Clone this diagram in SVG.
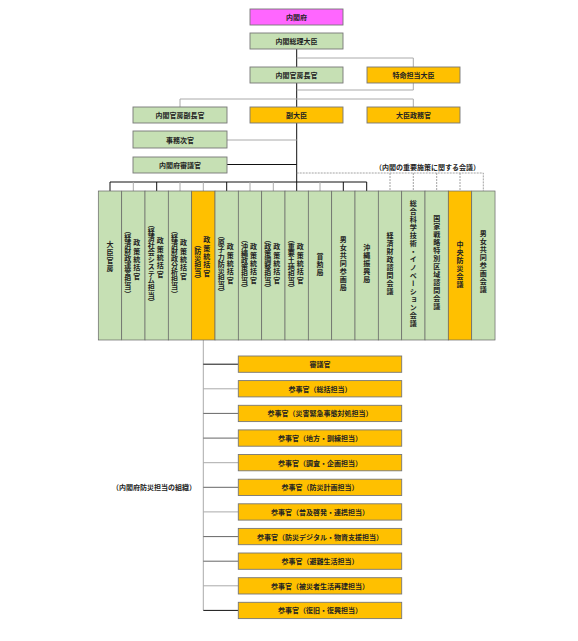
<svg xmlns="http://www.w3.org/2000/svg" width="578" height="641" viewBox="0 0 578 641">
<style>
text{font-family:"Noto Sans CJK JP","Noto Sans",sans-serif;font-size:7px;font-weight:bold;fill:#222}
.h{text-anchor:middle;dominant-baseline:central}
.v{writing-mode:vertical-rl;text-anchor:middle;letter-spacing:1px}
.p{letter-spacing:0.1px}
.s{letter-spacing:1.4px}
.g{fill:#C6E0B4}
.o{fill:#FFC000}
.m{fill:#FF66FF}
.box{stroke:#777;stroke-width:0.9}
.col{stroke:#666;stroke-width:0.7}
.k{stroke:#111;stroke-width:1;fill:none}
.l{stroke:#aaa;stroke-width:1;fill:none}
.d{stroke:#666;stroke-width:1;fill:none}
.ds{stroke:#999;stroke-width:0.9;fill:none;stroke-dasharray:2,1}
</style>
<rect width="578" height="641" fill="#fff"/>
<g id="connectors">
<line class="k" x1="296.7" y1="49" x2="296.7" y2="191"/>
<polyline class="l" points="296.7,58 413.3,58 413.3,67"/>
<polyline class="l" points="413.3,83 413.3,90 296.7,90"/>
<polyline class="l" points="180,107 180,99 413.3,99 413.3,107"/>
<line class="l" x1="227" y1="140" x2="296.7" y2="140" stroke-width="1.4"/>
<line class="k" x1="227" y1="164.5" x2="296.7" y2="164.5"/>
<line class="k" x1="110" y1="182" x2="366.7" y2="182"/>
<line class="k" x1="110" y1="182" x2="110" y2="191"/>
<line class="l" x1="133.3" y1="182" x2="133.3" y2="191"/>
<line class="k" x1="156.7" y1="182" x2="156.7" y2="191"/>
<line class="l" x1="180" y1="182" x2="180" y2="191"/>
<line class="l" x1="203.3" y1="182" x2="203.3" y2="191"/>
<line class="k" x1="226.7" y1="182" x2="226.7" y2="191"/>
<line class="l" x1="250" y1="182" x2="250" y2="191"/>
<line class="l" x1="273.3" y1="182" x2="273.3" y2="191"/>
<line class="l" x1="320" y1="182" x2="320" y2="191"/>
<line class="k" x1="343.3" y1="182" x2="343.3" y2="191"/>
<line class="k" x1="366.7" y1="182" x2="366.7" y2="191"/>
<polyline class="ds" points="296.7,173 483.3,173 483.3,191"/>
<line class="ds" x1="390" y1="173" x2="390" y2="191"/>
<line class="ds" x1="413.3" y1="173" x2="413.3" y2="191"/>
<line class="ds" x1="436.7" y1="173" x2="436.7" y2="191"/>
<line class="ds" x1="460" y1="173" x2="460" y2="191"/>
<line class="l" x1="203.3" y1="340" x2="203.3" y2="610" stroke="#999"/>
<line class="k" x1="203.3" y1="364.2" x2="238.3" y2="364.2"/>
<line class="l" x1="203.3" y1="388.8" x2="238.3" y2="388.8"/>
<line class="d" x1="203.3" y1="413.4" x2="238.3" y2="413.4"/>
<line class="d" x1="203.3" y1="438.1" x2="238.3" y2="438.1"/>
<line class="l" x1="203.3" y1="462.7" x2="238.3" y2="462.7"/>
<line class="d" x1="203.3" y1="487.3" x2="238.3" y2="487.3"/>
<line class="l" x1="203.3" y1="511.9" x2="238.3" y2="511.9"/>
<line class="d" x1="203.3" y1="536.6" x2="238.3" y2="536.6"/>
<line class="d" x1="203.3" y1="561.2" x2="238.3" y2="561.2"/>
<line class="l" x1="203.3" y1="585.8" x2="238.3" y2="585.8"/>
<line class="k" x1="203.3" y1="610.4" x2="238.3" y2="610.4"/>
</g>
<g id="n-naikakufu"><rect class="box m" x="250" y="9" width="93" height="16"/><text class="h" x="296.5" y="17">内閣府</text></g>
<g id="n-souri"><rect class="box g" x="250" y="33" width="93" height="16"/><text class="h" x="296.5" y="41">内閣総理大臣</text></g>
<g id="n-kanbou"><rect class="box g" x="250" y="67" width="93" height="16"/><text class="h" x="296.5" y="75">内閣官房長官</text></g>
<g id="n-tokumei"><rect class="box o" x="367" y="67" width="93" height="16"/><text class="h" x="413.5" y="75">特命担当大臣</text></g>
<g id="n-fukuchoukan"><rect class="box g" x="133" y="107" width="94" height="16"/><text class="h" x="180" y="115">内閣官房副長官</text></g>
<g id="n-fukudaijin"><rect class="box o" x="250" y="107" width="93" height="16"/><text class="h" x="296.5" y="115">副大臣</text></g>
<g id="n-seimukan"><rect class="box o" x="367" y="107" width="93" height="16"/><text class="h" x="413.5" y="115">大臣政務官</text></g>
<g id="n-jimujikan"><rect class="box g" x="133" y="131" width="94" height="17"/><text class="h" x="180" y="139.5">事務次官</text></g>
<g id="n-shingikan"><rect class="box g" x="133" y="157" width="94" height="16"/><text class="h" x="180" y="165">内閣府審議官</text></g>
<g id="label-kaigi"><text x="375" y="169.5">（内閣の重要施策に関する会議）</text></g>
<g id="columns">
<g id="c1"><rect class="col g" x="98.3" y="191" width="23.33" height="149"/><text class="v" x="110" y="257">大臣官房</text></g>
<g id="c2"><rect class="col g" x="121.7" y="191" width="23.33" height="149"/><text class="v s" x="136.8" y="260">政策統括官</text><text class="v p" x="127.8" y="262">（経済財政運営担当）</text></g>
<g id="c3"><rect class="col g" x="145" y="191" width="23.33" height="149"/><text class="v s" x="160.2" y="258">政策統括官</text><text class="v p" x="151.2" y="263">（経済社会システム担当）</text></g>
<g id="c4"><rect class="col g" x="168.3" y="191" width="23.33" height="149"/><text class="v s" x="183.5" y="260">政策統括官</text><text class="v p" x="174.5" y="262">（経済財政分析担当）</text></g>
<g id="c5"><rect class="col o" x="191.7" y="191" width="23.33" height="149"/><text class="v s" x="206.8" y="257">政策統括官</text><text class="v p" x="197.8" y="262">（防災担当）</text></g>
<g id="c6"><rect class="col g" x="215" y="191" width="23.33" height="149"/><text class="v s" x="230.2" y="264">政策統括官</text><text class="v p" x="221.2" y="264">（原子力防災担当）</text></g>
<g id="c7"><rect class="col g" x="238.3" y="191" width="23.33" height="149"/><text class="v s" x="253.5" y="264">政策統括官</text><text class="v p" x="244.5" y="264">（沖縄政策担当）</text></g>
<g id="c8"><rect class="col g" x="261.7" y="191" width="23.33" height="149"/><text class="v s" x="276.8" y="264">政策統括官</text><text class="v p" x="267.8" y="264">（政策調整担当）</text></g>
<g id="c9"><rect class="col g" x="285" y="191" width="23.33" height="149"/><text class="v s" x="300.2" y="264">政策統括官</text><text class="v p" x="291.2" y="264">（重要土地担当）</text></g>
<g id="c10"><rect class="col g" x="308.3" y="191" width="23.33" height="149"/><text class="v" x="320" y="265">賞勲局</text></g>
<g id="c11"><rect class="col g" x="331.7" y="191" width="23.33" height="149"/><text class="v" x="343.3" y="264">男女共同参画局</text></g>
<g id="c12"><rect class="col g" x="355" y="191" width="23.33" height="149"/><text class="v" x="366.7" y="264">沖縄振興局</text></g>
<g id="c13"><rect class="col g" x="378.3" y="191" width="23.33" height="149"/><text class="v" x="390" y="264">経済財政諮問会議</text></g>
<g id="c14"><rect class="col g" x="401.7" y="191" width="23.33" height="149"/><text class="v" x="413.3" y="264">総合科学技術・イノベーション会議</text></g>
<g id="c15"><rect class="col g" x="425" y="191" width="23.33" height="149"/><text class="v" x="436.7" y="263">国家戦略特別区域諮問会議</text></g>
<g id="c16"><rect class="col o" x="448.3" y="191" width="23.33" height="149"/><text class="v" x="460" y="265">中央防災会議</text></g>
<g id="c17"><rect class="col g" x="471.7" y="191" width="23.33" height="149"/><text class="v" x="483.3" y="262">男女共同参画会議</text></g>
</g>
<g id="label-bousai"><text x="112" y="490">（内閣府防災担当の組織）</text></g>
<g id="b1"><rect class="box o" x="238.3" y="356" width="163.4" height="16.3"/><text class="h" x="320" y="364.2">審議官</text></g>
<g id="b2"><rect class="box o" x="238.3" y="380.6" width="163.4" height="16.3"/><text class="h" x="320" y="388.8">参事官（総括担当）</text></g>
<g id="b3"><rect class="box o" x="238.3" y="405.3" width="163.4" height="16.3"/><text class="h" x="320" y="413.4">参事官（災害緊急事態対処担当）</text></g>
<g id="b4"><rect class="box o" x="238.3" y="429.9" width="163.4" height="16.3"/><text class="h" x="320" y="438.1">参事官（地方・訓練担当）</text></g>
<g id="b5"><rect class="box o" x="238.3" y="454.5" width="163.4" height="16.3"/><text class="h" x="320" y="462.7">参事官（調査・企画担当）</text></g>
<g id="b6"><rect class="box o" x="238.3" y="479.2" width="163.4" height="16.3"/><text class="h" x="320" y="487.3">参事官（防災計画担当）</text></g>
<g id="b7"><rect class="box o" x="238.3" y="503.8" width="163.4" height="16.3"/><text class="h" x="320" y="511.9">参事官（普及啓発・連携担当）</text></g>
<g id="b8"><rect class="box o" x="238.3" y="528.4" width="163.4" height="16.3"/><text class="h" x="320" y="536.6">参事官（防災デジタル・物資支援担当）</text></g>
<g id="b9"><rect class="box o" x="238.3" y="553" width="163.4" height="16.3"/><text class="h" x="320" y="561.2">参事官（避難生活担当）</text></g>
<g id="b10"><rect class="box o" x="238.3" y="577.7" width="163.4" height="16.3"/><text class="h" x="320" y="585.8">参事官（被災者生活再建担当）</text></g>
<g id="b11"><rect class="box o" x="238.3" y="602.3" width="163.4" height="16.3"/><text class="h" x="320" y="610.4">参事官（復旧・復興担当）</text></g>
</svg>
